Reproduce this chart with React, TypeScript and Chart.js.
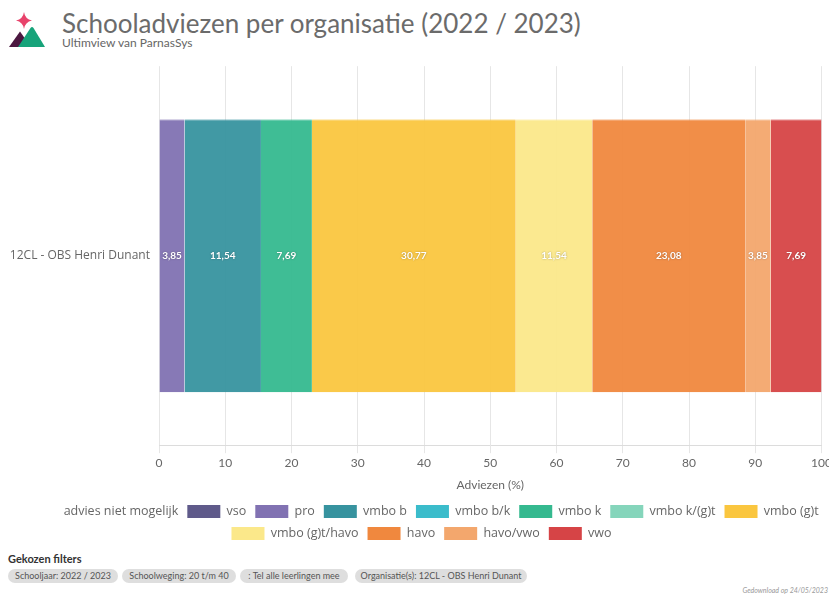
import React, { useEffect, useRef } from "react";
import { Chart, registerables } from "chart.js";

Chart.register(...registerables);

const categories = ["12CL - OBS Henri Dunant"];
const seriesNames = [
  "advies niet mogelijk",
  "vso",
  "pro",
  "vmbo b",
  "vmbo b/k",
  "vmbo k",
  "vmbo k/(g)t",
  "vmbo (g)t",
  "vmbo (g)t/havo",
  "havo",
  "havo/vwo",
  "vwo",
];
const seriesValues = [0, 0, 3.85, 11.54, 0, 7.69, 0, 30.77, 11.54, 23.08, 3.85, 7.69];
const seriesColors = [
  "rgba(255,255,255,0)",
  "#5f5a8a",
  "#8172b2",
  "#37939f",
  "#3bbccb",
  "#35b98f",
  "#85d5bb",
  "#fac63f",
  "#fbe88a",
  "#f0883e",
  "#f3a76d",
  "#d64446",
];
const xMin = 0;
const xMax = 100;
const xStep = 10;
const xTitle = "Adviezen (%)";
const filters = [
  "Schooljaar: 2022 / 2023",
  "Schoolweging: 20 t/m 40",
  ": Tel alle leerlingen mee",
  "Organisatie(s): 12CL - OBS Henri Dunant",
];

const FONT = "Lato, 'Open Sans', sans-serif";
const FONT2 = "'Open Sans', Lato, sans-serif";

function withAlpha(hex: string, a: number) {
  if (!hex.startsWith("#")) return hex;
  const r = parseInt(hex.slice(1, 3), 16);
  const g = parseInt(hex.slice(3, 5), 16);
  const b = parseInt(hex.slice(5, 7), 16);
  return `rgba(${r},${g},${b},${a})`;
}

const segLabels = {
  id: "segLabels",
  afterDatasetsDraw(chart: any) {
    const ctx = chart.ctx;
    ctx.save();
    ctx.font = "bold 10px " + FONT;
    ctx.fillStyle = "#ffffff";
    ctx.textAlign = "center";
    ctx.textBaseline = "middle";
    ctx.shadowColor = "rgba(0,0,0,0.35)";
    ctx.shadowBlur = 2;
    chart.data.datasets.forEach((ds: any, i: number) => {
      const meta = chart.getDatasetMeta(i);
      meta.data.forEach((el: any, j: number) => {
        const v = ds.data[j];
        if (!v) return;
        const p = el.getProps(["x", "y", "base"], true);
        ctx.fillText(v.toFixed(2).replace(".", ","), (p.x + p.base) / 2, p.y);
      });
    });
    ctx.restore();
  },
};

function ChartBox() {
  const ref = useRef<HTMLCanvasElement | null>(null);
  useEffect(() => {
    if (!ref.current) return;
    const chart = new Chart(ref.current, {
      type: "bar",
      data: {
        labels: categories,
        datasets: seriesNames.map((name, i) => ({
          label: name,
          data: [seriesValues[i]],
          backgroundColor: withAlpha(seriesColors[i], 0.95),
          borderColor: withAlpha(seriesColors[i], 0.55),
          borderWidth: { top: 1, bottom: 0, left: 0, right: 0 },
          borderSkipped: false,
        })),
      },
      options: {
        indexAxis: "y",
        animation: false,
        responsive: true,
        maintainAspectRatio: false,
        layout: { padding: { top: 6, left: 8, right: 0, bottom: 0 } },
        plugins: {
          legend: {
            position: "bottom",
            labels: {
              boxWidth: 33,
              boxHeight: 13,
              padding: 9,
              color: "#666",
              font: { family: FONT2, size: 12.5 },
              generateLabels: (chart: any) =>
                chart.data.datasets.map((ds: any, i: number) => ({
                  text: ds.label,
                  fillStyle: seriesColors[i],
                  strokeStyle: seriesColors[i],
                  lineWidth: 0,
                  fontColor: "#666",
                  hidden: false,
                  datasetIndex: i,
                })),
            },
          },
          tooltip: { enabled: false },
        },
        scales: {
          x: {
            stacked: true,
            min: xMin,
            max: xMax,
            ticks: {
              stepSize: xStep,
              color: "#666",
              font: { family: FONT, size: 12 },
            },
            grid: { color: "#e6e6e6" },
            border: { color: "#dcdcdc" },
            title: {
              display: true,
              text: xTitle,
              color: "#666",
              font: { family: FONT, size: 12 },
            },
          },
          y: {
            stacked: true,
            grid: { display: false, drawTicks: false },
            border: { display: false },
            ticks: {
              color: "#666",
              padding: 9,
              font: { family: FONT2, size: 12 },
            },
            afterFit: (scale: any) => {
              scale.width = 151;
            },
          },
        },
      },
      plugins: [segLabels],
    });
    return () => chart.destroy();
  }, []);
  return <canvas ref={ref} />;
}

export default function App() {
  const pillLefts = [8, 122, 240, 355];
  const pillWidths = [110, 114, 108, 172];
  return (
    <div
      style={{
        position: "fixed",
        left: 0,
        top: 0,
        width: 829,
        height: 596,
        overflow: "hidden",
        background: "#fff",
        fontFamily: FONT,
      }}
    >
      <svg
        style={{ position: "absolute", left: 0, top: 0 }}
        width={60}
        height={60}
        viewBox="0 0 60 60"
      >
        <path d="M24 12 Q25 19 32 20.5 Q25 22 24 29 Q23 22 16 20.5 Q23 19 24 12 Z" fill="#e8436b" />
        <path d="M9 47 L20 31.5 L31 47 Z" fill="#4b1740" />
        <path d="M18 47 L30.5 28 Q32 26 33.5 28 L45 47 Z" fill="#17a37a" />
      </svg>
      <div
        style={{
          position: "absolute",
          left: 62,
          top: 6,
          fontSize: 26,
          color: "#6b6b6b",
          whiteSpace: "nowrap",
          lineHeight: "34px",
        }}
      >
        Schooladviezen per organisatie (2022 / 2023)
      </div>
      <div
        style={{
          position: "absolute",
          left: 62,
          top: 36,
          fontSize: 12,
          color: "#666",
          whiteSpace: "nowrap",
          lineHeight: "14px",
        }}
      >
        Ultimview van ParnasSys
      </div>
      <div style={{ position: "absolute", left: 0, top: 50, width: 835, height: 500 }}>
        <ChartBox />
      </div>
      <div
        style={{
          position: "absolute",
          left: 8,
          top: 552,
          fontSize: 11,
          fontWeight: "bold",
          color: "#333",
          lineHeight: "14px",
          whiteSpace: "nowrap",
        }}
      >
        Gekozen filters
      </div>
      {filters.map((f, i) => (
        <div
          key={i}
          style={{
            position: "absolute",
            left: pillLefts[i],
            top: 569,
            width: pillWidths[i],
            height: 14,
            borderRadius: 7,
            background: "#dedede",
            color: "#555",
            fontSize: 9,
            lineHeight: "14px",
            textAlign: "center",
            whiteSpace: "nowrap",
          }}
        >
          {f}
        </div>
      ))}
      <div
        style={{
          position: "absolute",
          right: 1,
          top: 586,
          fontSize: 7,
          fontStyle: "italic",
          color: "#999",
          lineHeight: "9px",
          whiteSpace: "nowrap",
        }}
      >
        Gedownload op 24/05/2023
      </div>
    </div>
  );
}
